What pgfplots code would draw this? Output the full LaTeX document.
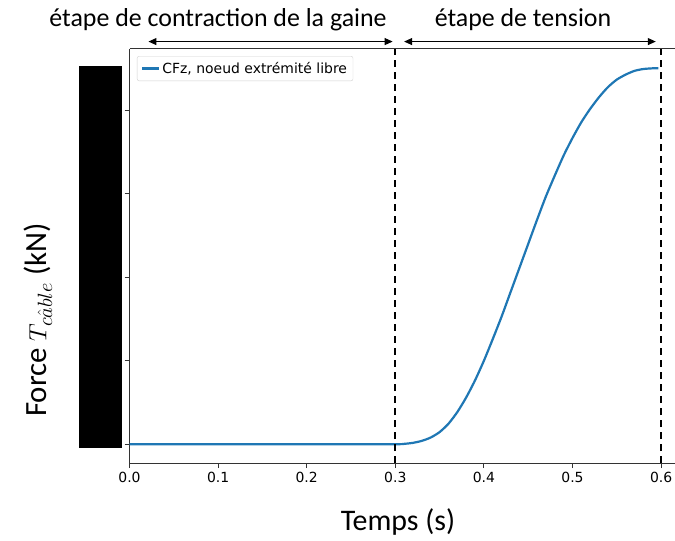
\documentclass[border=0pt]{standalone}
\usepackage{fontspec}
\setmainfont{Carlito}
\newfontfamily\dejavu{DejaVu Sans}
\usepackage{pgfplots}
\pgfplotsset{compat=1.18}
\usetikzlibrary{arrows.meta}
\definecolor{c0}{HTML}{1F77B4}
\definecolor{spine}{HTML}{333333}
\begin{document}
\begin{tikzpicture}
\begin{axis}[
  scale only axis,
  width=545.5bp, height=414bp,
  xmin=0, xmax=0.6157,
  ymin=-0.2255, ymax=4.737,
  axis y line*=left,
  axis line style={spine, line width=1bp},
  xtick={0,0.1,0.2,0.3,0.4,0.5,0.6},
  xticklabels={0.0,0.1,0.2,0.3,0.4,0.5,0.6},
  ytick={0,1,2,3,4},
  yticklabels={},
  xtick pos=bottom, ytick pos=left,
  tick align=outside,
  major tick length=5bp,
  tick style={spine, line width=1bp},
  ticklabel style={font=\dejavu\fontsize{14}{16}\selectfont},
  /pgf/number format/assume math mode=true,
  xticklabel style={yshift=-1bp},
  clip=false,
  legend cell align=left,
  legend style={at={(0.0137,0.983)}, anchor=north west, draw=black!18, rounded corners=2bp,
    font=\dejavu\fontsize{14}{16}\selectfont, inner sep=4bp},
  legend image post style={line width=2.2bp},
]
\addplot[c0, line width=2.2bp, smooth, tension=0.4] coordinates {
(0.0,0) (0.10,0) (0.20,0) (0.30,0) (0.31,0.004) (0.32,0.016) (0.33,0.04) (0.34,0.08)
(0.35,0.145) (0.36,0.245) (0.37,0.385) (0.38,0.56) (0.39,0.765) (0.40,1.00)
(0.41,1.26) (0.42,1.53) (0.43,1.82) (0.44,2.11) (0.45,2.40) (0.46,2.69)
(0.47,2.97) (0.48,3.22) (0.49,3.46) (0.50,3.67) (0.51,3.86) (0.52,4.02)
(0.53,4.16) (0.54,4.28) (0.55,4.37) (0.56,4.43) (0.57,4.475) (0.58,4.497)
(0.59,4.505) (0.597,4.506)
};
\addlegendentry{CFz, noeud extrémité libre}
\addplot[black, line width=1.8bp, dash pattern=on 7bp off 5bp, forget plot] coordinates {(0.3,-0.2255) (0.3,4.737)};
\addplot[black, line width=1.8bp, dash pattern=on 7bp off 5bp, forget plot] coordinates {(0.6,-0.2255) (0.6,4.737)};
\draw[black, line width=1bp, {Triangle[length=8bp,width=7bp]}-{Triangle[length=8bp,width=7bp]}] (axis cs:0.0214,4.826) -- (axis cs:0.297,4.826);
\draw[black, line width=1bp, {Triangle[length=8bp,width=7bp]}-{Triangle[length=8bp,width=7bp]}] (axis cs:0.310,4.826) -- (axis cs:0.594,4.826);
\fill[black] (axis cs:-0.057,4.538) rectangle (axis cs:-0.0085,-0.048);
\end{axis}
\node[font=\fontsize{26}{30}\selectfont] at (88.5bp,443bp) {étape de contraction de la gaine};
\node[font=\fontsize{26}{30}\selectfont] at (393.5bp,443bp) {étape de tension};
\node[font=\fontsize{30}{34}\selectfont] at (268.5bp,-59bp) {Temps (s)};
\node[font=\fontsize{31}{34}\selectfont, rotate=90] at (-91.5bp,143bp) {Force $T_{c\hat{a}ble}$ (kN)};
\pgfresetboundingbox
\useasboundingbox (-129.5bp,-78bp) rectangle (545.5bp,463bp);
\end{tikzpicture}
\end{document}
